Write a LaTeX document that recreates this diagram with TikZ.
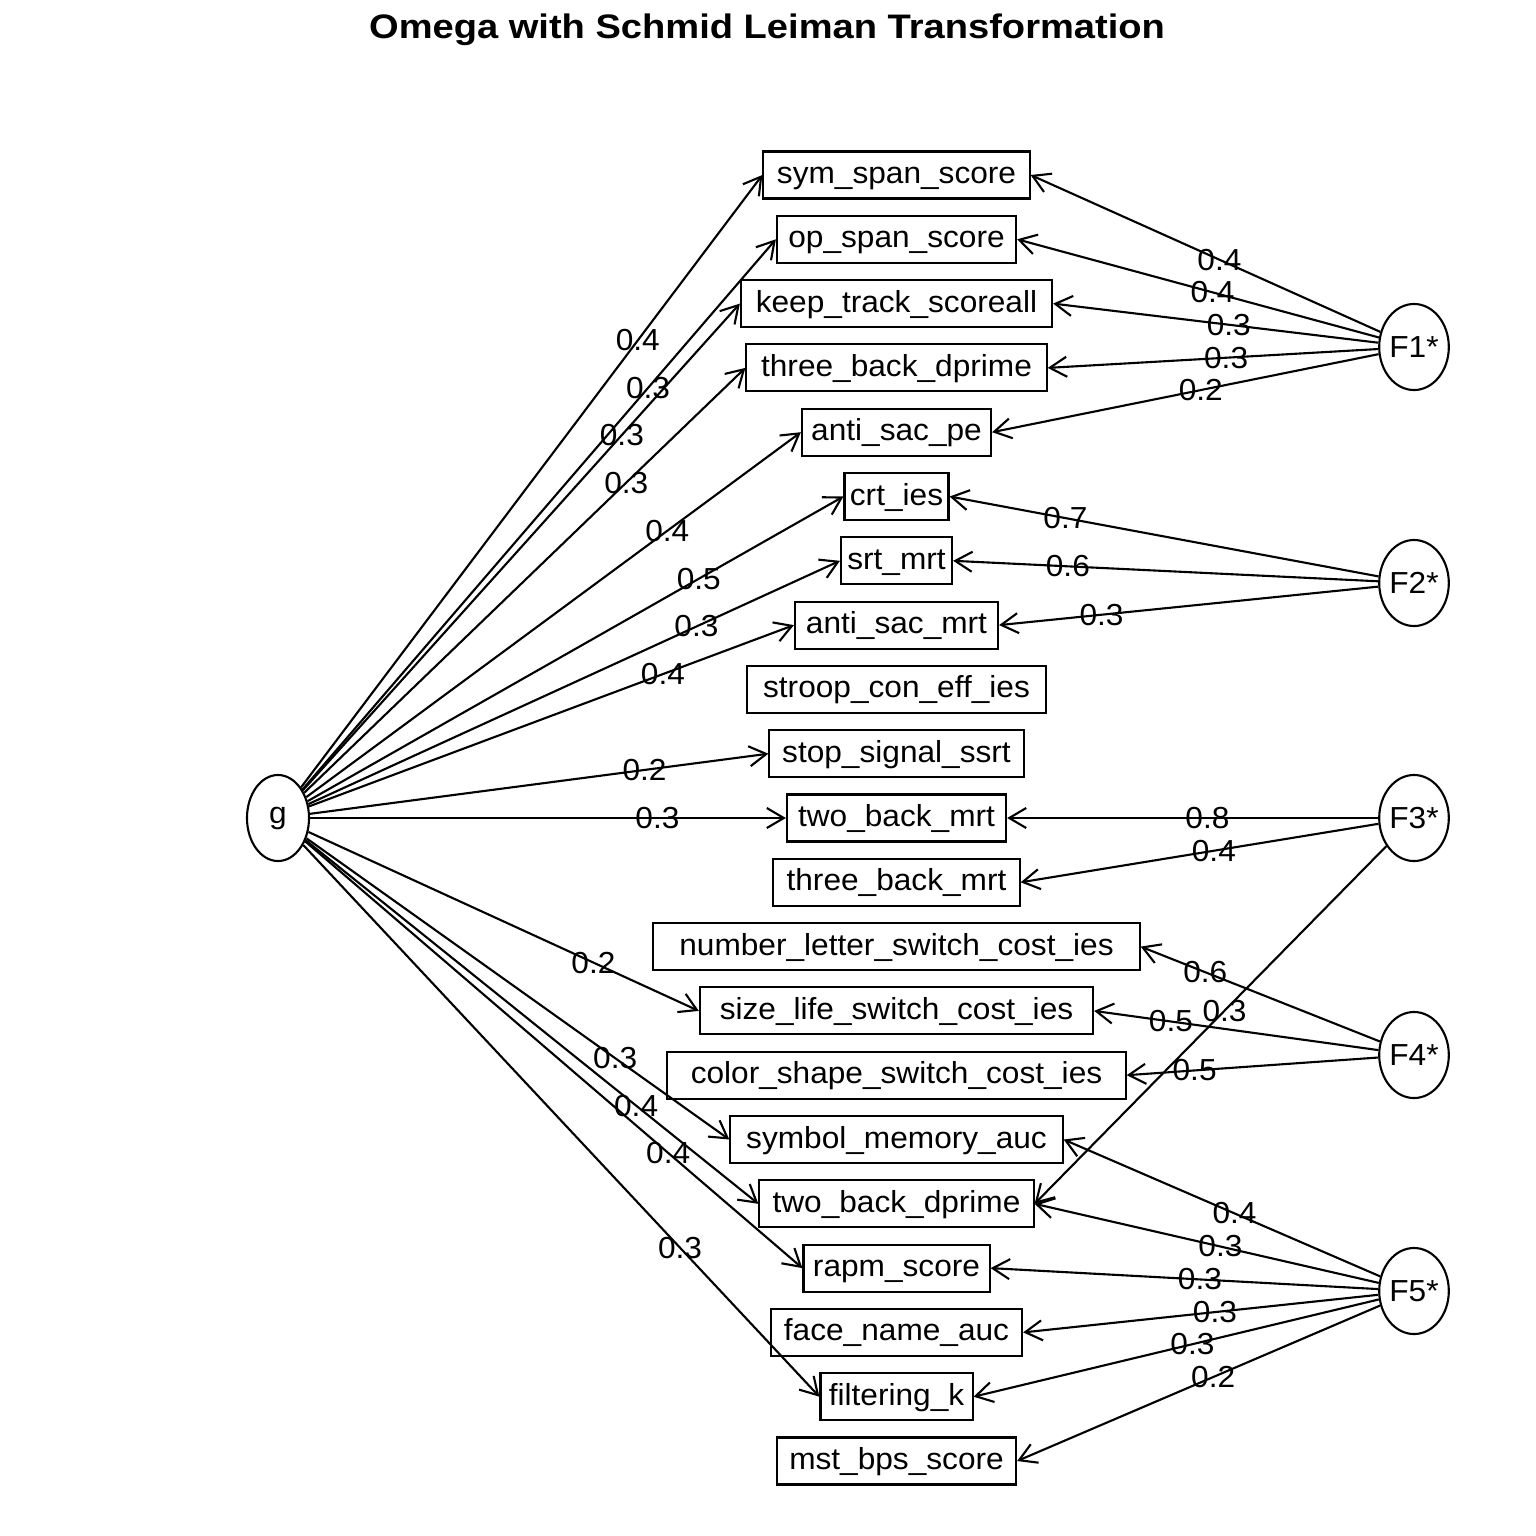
\documentclass[tikz,border=0pt]{standalone}
\usepackage{fontspec}
\setmainfont{Liberation Sans}[FakeStretch=1.04]
\newfontfamily\titlefont{Liberation Sans}[FakeStretch=1.12]
\usetikzlibrary{arrows.meta,shapes.geometric}
\begin{document}
\begin{tikzpicture}[x=0.01cm,y=-0.01cm,
  every node/.style={font=\fontsize{8.65}{11}\selectfont},
  box/.style={draw,line width=0.6pt,rectangle,inner sep=0pt,minimum height=0.47cm,text height=0.17cm,text depth=0cm},
  fac/.style={draw,line width=0.6pt,ellipse,inner sep=0pt,minimum width=0.62cm,minimum height=0.86cm},
  arr/.style={line width=0.6pt,-{Straight Barb[length=0.17cm,width=0.2cm,line width=0.6pt]}},
  lab/.style={inner sep=0pt}]
\useasboundingbox (0,0) rectangle (1536,1536);
\node[anchor=base,font=\titlefont\fontsize{9.67}{12}\selectfont\bfseries] (title) at (767,38.3) {Omega with Schmid Leiman Transformation};
% observed variables
\node[box,minimum width=2.66cm] (n1) at (896.5,175) {sym\_span\_score};
\node[box,minimum width=2.39cm] (n2) at (896.5,239.3) {op\_span\_score};
\node[box,minimum width=3.11cm] (n3) at (896.5,303.6) {keep\_track\_scoreall};
\node[box,minimum width=3.00cm] (n4) at (896.5,367.9) {three\_back\_dprime};
\node[box,minimum width=1.89cm] (n5) at (896.5,432.2) {anti\_sac\_pe};
\node[box,minimum width=1.04cm] (n6) at (896.5,496.5) {crt\_ies};
\node[box,minimum width=1.11cm] (n7) at (896.5,560.8) {srt\_mrt};
\node[box,minimum width=2.03cm] (n8) at (896.5,625.1) {anti\_sac\_mrt};
\node[box,minimum width=2.99cm] (n9) at (896.5,689.4) {stroop\_con\_eff\_ies};
\node[box,minimum width=2.54cm] (n10) at (896.5,753.7) {stop\_signal\_ssrt};
\node[box,minimum width=2.19cm] (n11) at (896.5,818) {two\_back\_mrt};
\node[box,minimum width=2.46cm] (n12) at (896.5,882.3) {three\_back\_mrt};
\node[box,minimum width=4.86cm] (n13) at (896.5,946.6) {number\_letter\_switch\_cost\_ies};
\node[box,minimum width=3.93cm] (n14) at (896.5,1010.9) {size\_life\_switch\_cost\_ies};
\node[box,minimum width=4.58cm] (n15) at (896.5,1075.2) {color\_shape\_switch\_cost\_ies};
\node[box,minimum width=3.32cm] (n16) at (896.5,1139.5) {symbol\_memory\_auc};
\node[box,minimum width=2.74cm] (n17) at (896.5,1203.8) {two\_back\_dprime};
\node[box,minimum width=1.86cm] (n18) at (896.5,1268.1) {rapm\_score};
\node[box,minimum width=2.51cm] (n19) at (896.5,1332.4) {face\_name\_auc};
\node[box,minimum width=1.52cm] (n20) at (896.5,1396.7) {filtering\_k};
\node[box,minimum width=2.39cm] (n21) at (896.5,1461) {mst\_bps\_score};
% factors
\node[fac] (g) at (278,818) {g};
\node[fac] (F1) at (1414,347) {F1*};
\node[fac] (F2) at (1414,583) {F2*};
\node[fac] (F3) at (1414,818) {F3*};
\node[fac] (F4) at (1414,1055) {F4*};
\node[fac] (F5) at (1414,1291) {F5*};
% general factor loadings
\draw[arr] (g) -- node[lab,pos=0.73]{0.4} (n1.west);
\draw[arr] (g) -- node[lab,pos=0.73]{0.3} (n2.west);
\draw[arr] (g) -- node[lab,pos=0.73]{0.3} (n3.west);
\draw[arr] (g) -- node[lab,pos=0.73]{0.3} (n4.west);
\draw[arr] (g) -- node[lab,pos=0.73]{0.4} (n5.west);
\draw[arr] (g) -- node[lab,pos=0.73]{0.5} (n6.west);
\draw[arr] (g) -- node[lab,pos=0.73]{0.3} (n7.west);
\draw[arr] (g) -- node[lab,pos=0.73]{0.4} (n8.west);
\draw[arr] (g) -- node[lab,pos=0.73]{0.2} (n10.west);
\draw[arr] (g) -- node[lab,pos=0.73]{0.3} (n11.west);
\draw[arr] (g) -- node[lab,pos=0.73]{0.2} (n14.west);
\draw[arr] (g) -- node[lab,pos=0.73]{0.3} (n16.west);
\draw[arr] (g) -- node[lab,pos=0.73]{0.4} (n17.west);
\draw[arr] (g) -- node[lab,pos=0.73]{0.4} (n18.west);
\draw[arr] (g) -- node[lab,pos=0.73]{0.3} (n20.west);
% group factor loadings
\draw[arr] (F1) -- node[lab,pos=0.46]{0.4} (n1.east);
\draw[arr] (F1) -- node[lab,pos=0.46]{0.4} (n2.east);
\draw[arr] (F1) -- node[lab,pos=0.46]{0.3} (n3.east);
\draw[arr] (F1) -- node[lab,pos=0.46]{0.3} (n4.east);
\draw[arr] (F1) -- node[lab,pos=0.46]{0.2} (n5.east);
\draw[arr] (F2) -- node[lab,pos=0.73]{0.7} (n6.east);
\draw[arr] (F2) -- node[lab,pos=0.73]{0.6} (n7.east);
\draw[arr] (F2) -- node[lab,pos=0.73]{0.3} (n8.east);
\draw[arr] (F3) -- node[lab,pos=0.46]{0.8} (n11.east);
\draw[arr] (F3) -- node[lab,pos=0.46]{0.4} (n12.east);
\draw[arr] (F3) -- node[lab,pos=0.46]{0.3} (n17.east);
\draw[arr] (F4) -- node[lab,pos=0.73]{0.6} (n13.east);
\draw[arr] (F4) -- node[lab,pos=0.73]{0.5} (n14.east);
\draw[arr] (F4) -- node[lab,pos=0.73]{0.5} (n15.east);
\draw[arr] (F5) -- node[lab,pos=0.46]{0.4} (n16.east);
\draw[arr] (F5) -- node[lab,pos=0.46]{0.3} (n17.east);
\draw[arr] (F5) -- node[lab,pos=0.46]{0.3} (n18.east);
\draw[arr] (F5) -- node[lab,pos=0.46]{0.3} (n19.east);
\draw[arr] (F5) -- node[lab,pos=0.46]{0.3} (n20.east);
\draw[arr] (F5) -- node[lab,pos=0.46]{0.2} (n21.east);
\end{tikzpicture}
\end{document}
